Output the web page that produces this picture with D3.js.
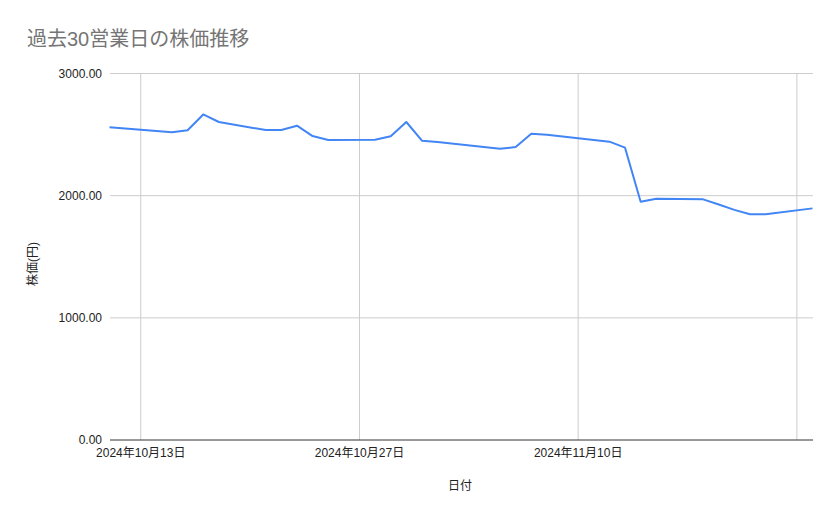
<!DOCTYPE html>
<html>
<head>
<meta charset="utf-8">
<script src="https://cdn.jsdelivr.net/npm/d3@7"></script>
<style>
  body { margin: 0; background: #fff; }
  text { font-family: Arial, "Liberation Sans", "Noto Sans CJK JP", sans-serif; }
</style>
</head>
<body>
<svg id="chart" width="839" height="519"></svg>
<script>
// Trading days and closing prices
const dates = [
  "2024-10-11", "2024-10-15", "2024-10-16", "2024-10-17", "2024-10-18",
  "2024-10-21", "2024-10-22", "2024-10-23", "2024-10-24", "2024-10-25",
  "2024-10-28", "2024-10-29", "2024-10-30", "2024-10-31", "2024-11-01",
  "2024-11-05", "2024-11-06", "2024-11-07", "2024-11-08", "2024-11-11",
  "2024-11-12", "2024-11-13", "2024-11-14", "2024-11-15", "2024-11-18",
  "2024-11-19", "2024-11-20", "2024-11-21", "2024-11-22", "2024-11-25"
];
const prices = [
  2560, 2520, 2535, 2665, 2603,
  2537, 2537, 2573, 2488, 2456,
  2458, 2486, 2603, 2450, 2439,
  2384, 2398, 2507, 2499, 2456,
  2442, 2393, 1951, 1975, 1970,
  1928, 1884, 1848, 1848, 1896
];
const yTicks = [0, 1000, 2000, 3000];
const xTicks = ["2024-10-13", "2024-10-27", "2024-11-10", "2024-11-24"];
const xTickLabels = ["2024年10月13日", "2024年10月27日", "2024年11月10日", ""];

const svg = d3.select("#chart");
const parse = d3.utcParse("%Y-%m-%d");
const data = dates.map((d, i) => ({ date: parse(d), value: prices[i] }));

const plotLeft = 110, plotRight = 813, plotTop = 73.5, plotBottom = 440;

const x = d3.scaleUtc()
  .domain([parse("2024-10-11"), parse("2024-11-25")])
  .range([109.5, 812.5]);
const y = d3.scaleLinear()
  .domain([0, 3000])
  .range([plotBottom, plotTop]);

// Title
svg.append("text")
  .attr("x", 27).attr("y", 46)
  .attr("font-size", 20)
  .attr("fill", "#757575")
  .text("過去30営業日の株価推移");

// Horizontal gridlines + y labels
svg.append("g")
  .selectAll("line")
  .data(yTicks.filter(d => d > 0))
  .enter().append("line")
    .attr("x1", plotLeft).attr("x2", plotRight)
    .attr("y1", d => y(d)).attr("y2", d => y(d))
    .attr("stroke", "#cccccc");

svg.append("g")
  .selectAll("text")
  .data(yTicks)
  .enter().append("text")
    .attr("x", 102)
    .attr("y", d => y(d) + 4)
    .attr("text-anchor", "end")
    .attr("font-size", 12)
    .attr("fill", "#222")
    .text(d => d3.format(".2f")(d));

// Vertical gridlines + x labels
svg.append("g")
  .selectAll("line")
  .data(xTicks)
  .enter().append("line")
    .attr("x1", d => x(parse(d))).attr("x2", d => x(parse(d)))
    .attr("y1", plotTop).attr("y2", plotBottom)
    .attr("stroke", "#cccccc");

svg.append("g")
  .selectAll("text")
  .data(xTicks)
  .enter().append("text")
    .attr("x", d => x(parse(d)))
    .attr("y", 457)
    .attr("text-anchor", "middle")
    .attr("font-size", 12)
    .attr("fill", "#222")
    .text((d, i) => xTickLabels[i]);

// Baseline
svg.append("line")
  .attr("x1", plotLeft).attr("x2", plotRight)
  .attr("y1", plotBottom).attr("y2", plotBottom)
  .attr("stroke", "#333");

// Axis titles
svg.append("text")
  .attr("x", 460).attr("y", 490)
  .attr("text-anchor", "middle")
  .attr("font-size", 12)
  .attr("fill", "#222")
  .text("日付");

svg.append("text")
  .attr("transform", "translate(37,264) rotate(-90)")
  .attr("text-anchor", "middle")
  .attr("font-size", 12)
  .attr("fill", "#222")
  .text("株価(円)");

// Price line
const line = d3.line()
  .x(d => x(d.date))
  .y(d => y(d.value));

svg.append("path")
  .datum(data)
  .attr("d", line)
  .attr("fill", "none")
  .attr("stroke", "#4285f4")
  .attr("stroke-width", 2)
  .attr("stroke-linejoin", "round");
</script>
</body>
</html>
